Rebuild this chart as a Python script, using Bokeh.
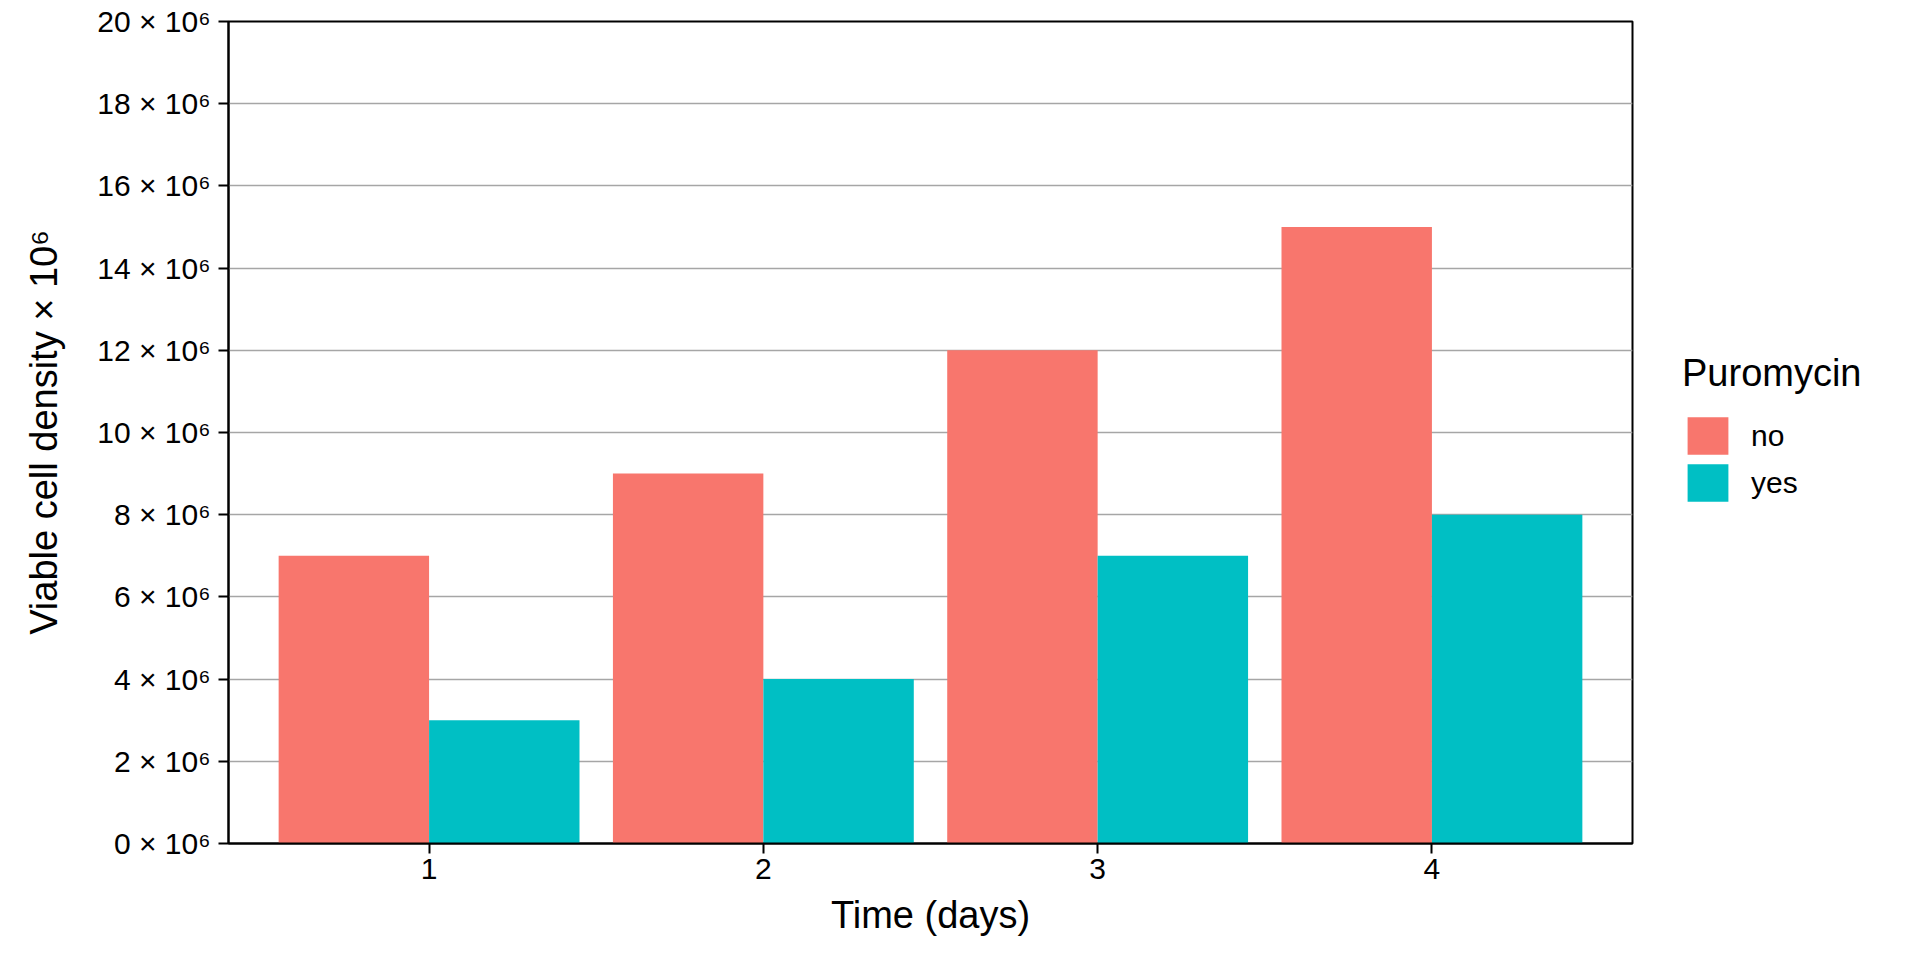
from bokeh.plotting import figure
from bokeh.layouts import row
from bokeh.models import (Range1d, FixedTicker, CustomJSTickFormatter, Legend,
                          LegendItem, ColumnDataSource)
from bokeh.transform import dodge
from bokeh.embed import file_html
from bokeh.resources import INLINE

# ---- data ----
days = [1, 2, 3, 4]
no_vals = [7e6, 9e6, 12e6, 15e6]
yes_vals = [3e6, 4e6, 7e6, 8e6]
y_ticks = [0, 2e6, 4e6, 6e6, 8e6, 10e6, 12e6, 14e6, 16e6, 18e6, 20e6]
groups = ["no", "yes"]
colors = ["#F8766D", "#00BFC4"]
legend_title = "Puromycin"
x_title = "Time (days)"
y_title = "Viable cell density \u00d7 10\u2076"

FONT = "Liberation Sans"

src = ColumnDataSource(dict(day=days, no=no_vals, yes=yes_vals))

# ---- main chart ----
p = figure(width=1640, height=952, output_backend="svg", toolbar_location=None,
           x_range=Range1d(0.4, 4.6), y_range=Range1d(0, 20e6),
           min_border_left=228, min_border_right=8,
           min_border_top=21, min_border_bottom=109)
p.background_fill_color = "white"
p.border_fill_color = "white"
p.outline_line_color = "black"
p.outline_line_width = 2

p.vbar(x=dodge("day", -0.225), top="no", width=0.45, bottom=0, source=src,
       fill_color=colors[0], line_color=None)
p.vbar(x=dodge("day", 0.225), top="yes", width=0.45, bottom=0, source=src,
       fill_color=colors[1], line_color=None)

p.xaxis.ticker = FixedTicker(ticks=days)
p.yaxis.ticker = FixedTicker(ticks=y_ticks)
p.yaxis.formatter = CustomJSTickFormatter(
    code="return Math.round(tick/1e6) + ' \u00d7 10\u2076';")
for ax in (p.xaxis, p.yaxis):
    ax.axis_line_color = "black"
    ax.axis_line_width = 2
    ax.major_tick_line_color = "black"
    ax.major_tick_line_width = 2
    ax.major_tick_out = 10
    ax.major_tick_in = 0
    ax.minor_tick_line_color = None
    ax.major_label_text_font = FONT
    ax.major_label_text_font_size = "30px"
    ax.major_label_text_color = "black"
    ax.axis_label_text_font = FONT
    ax.axis_label_text_font_size = "38px"
    ax.axis_label_text_font_style = "normal"
    ax.axis_label_text_color = "black"
p.xaxis.axis_label = x_title
p.yaxis.axis_label = y_title
p.xaxis.major_label_standoff = 5
p.yaxis.major_label_standoff = 8
p.xaxis.axis_label_standoff = 12
p.yaxis.axis_label_standoff = 29

p.xgrid.visible = False
p.ygrid.ticker = FixedTicker(ticks=y_ticks)
p.ygrid.grid_line_color = "#a6a6a6"
p.ygrid.grid_line_width = 1.3

# ---- legend panel (separate figure to the right) ----
# key renderers share the chart data; they are hidden so only their legend keys show
lg = figure(width=272, height=952, output_backend="svg", toolbar_location=None,
            x_range=Range1d(0.4, 4.6), y_range=Range1d(0, 20e6),
            x_axis_type=None, y_axis_type=None,
            min_border_left=0, min_border_right=0,
            min_border_top=0, min_border_bottom=0)
lg.outline_line_color = None
lg.background_fill_color = "white"
lg.border_fill_color = "white"
lg.xgrid.visible = False
lg.ygrid.visible = False
key_renderers = [
    lg.vbar(x=dodge("day", -0.225), top="no", width=0.45, bottom=0, source=src,
            fill_color=colors[0], line_color=None, visible=False),
    lg.vbar(x=dodge("day", 0.225), top="yes", width=0.45, bottom=0, source=src,
            fill_color=colors[1], line_color=None, visible=False),
]

legend = Legend(items=[LegendItem(label=g, renderers=[r])
                       for g, r in zip(groups, key_renderers)],
                location=(42, 337))
legend.click_policy = "none"
legend.title = legend_title
legend.title_text_font = FONT
legend.title_text_font_size = "38px"
legend.title_text_font_style = "normal"
legend.title_text_color = "black"
legend.title_standoff = 17
legend.label_text_font = FONT
legend.label_text_font_size = "30px"
legend.label_text_color = "black"
legend.glyph_width = 51
legend.glyph_height = 47
legend.label_standoff = 18
legend.spacing = 0
legend.padding = 0
legend.margin = 0
legend.border_line_color = None
legend.background_fill_alpha = 0
lg.add_layout(legend, "center")

layout = row(p, lg)
open("out.html", "w", encoding="utf-8").write(file_html(layout, INLINE))
